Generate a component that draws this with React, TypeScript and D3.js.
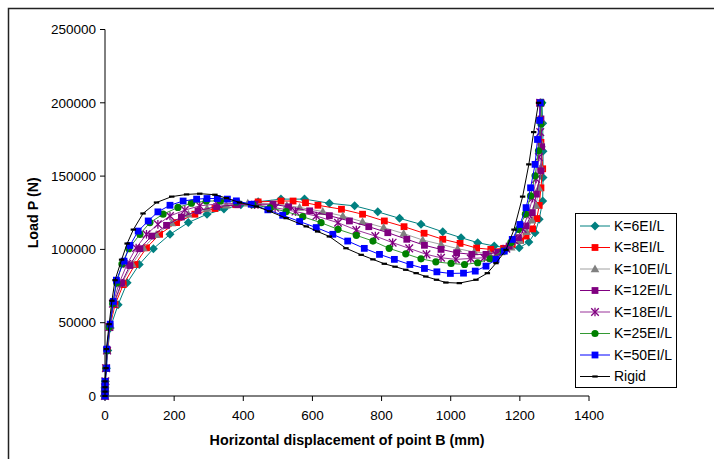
import React from "react";
import * as d3 from "d3";

const xTicks = [0, 200, 400, 600, 800, 1000, 1200, 1400];
const yTicks = [0, 50000, 100000, 150000, 200000, 250000];

const k6: [number, number][] = [[0,0],[0,3000],[0,6000],[1,10000],[4,19000],[8,31000],[15,46400],[38,62300],[64,77200],[99,89700],[140,100500],[188,110300],[241,118300],[295,124000],[344,127500],[393,130500],[443,132500],[509,134300],[577,134300],[649,131500],[722,129700],[789,125600],[852,121200],[914,117100],[977,112000],[1030,108000],[1078,104600],[1126,102300],[1165,101000],[1198,101100],[1226,105000],[1244,111400],[1256,120500],[1266,133000],[1267,149000],[1267,167000],[1266,186000],[1264,200000]];
const k8: [number, number][] = [[0,0],[0,3000],[0,6000],[1,10000],[3,19000],[7,31000],[14,47000],[29,62300],[53,76000],[87,89700],[120,101100],[158,110300],[207,118300],[260,124000],[318,127900],[379,130500],[443,132400],[509,133000],[544,133000],[580,131800],[616,130100],[684,127400],[745,124000],[808,119400],[865,115500],[923,111000],[977,106900],[1027,104100],[1075,100900],[1116,100000],[1153,100700],[1178,103400],[1202,106000],[1218,109100],[1237,114000],[1249,121000],[1256,130000],[1261,142000],[1266,155000],[1261,173000],[1259,188000],[1257,200000]];
const k10: [number, number][] = [[0,0],[0,3000],[0,6000],[1,10000],[3,19000],[6,31000],[13,47000],[27,63000],[49,77000],[79,90000],[111,101000],[148,110000],[193,118000],[241,124000],[295,128000],[351,130200],[413,131500],[482,131000],[526,130000],[563,128600],[630,125800],[688,122800],[745,118900],[806,114900],[864,110800],[919,106400],[972,103400],[1020,100500],[1068,98200],[1111,97300],[1146,98300],[1175,101500],[1200,106000],[1220,112000],[1235,120000],[1247,130000],[1255,142000],[1261,156000],[1263,172000],[1262,188000],[1260,200000]];
const k12: [number, number][] = [[0,0],[0,3000],[0,6000],[1,10000],[3,19000],[6,31000],[12,47000],[25,63000],[48,77200],[72,89000],[101,100500],[135,109100],[178,116400],[221,122100],[269,126300],[323,129200],[384,130500],[433,130800],[486,130800],[531,129000],[592,126300],[649,123000],[707,119400],[763,115500],[818,111400],[873,106900],[924,102800],[972,100000],[1017,97700],[1061,96600],[1102,96600],[1136,98000],[1169,102300],[1196,108000],[1218,116000],[1236,125100],[1248,137700],[1261,153600],[1263,170000],[1261,189000],[1259,200000]];
const k18: [number, number][] = [[0,0],[0,3000],[0,6000],[1,10000],[3,19000],[6,31000],[12,47000],[23,63000],[41,77000],[64,90000],[90,101000],[120,110300],[153,117100],[188,122800],[231,126800],[274,129700],[325,131000],[379,131300],[433,130500],[492,128500],[551,125800],[611,122800],[674,118200],[727,113200],[782,109100],[832,104600],[880,100700],[930,96600],[972,94300],[1015,93200],[1058,93800],[1097,94300],[1131,96500],[1161,100500],[1185,106000],[1208,114000],[1224,124000],[1237,135000],[1247,148000],[1255,163000],[1259,180000],[1259,200000]];
const k25: [number, number][] = [[0,0],[0,3000],[0,6000],[0,10000],[3,19000],[6,31000],[12,47000],[22,63000],[34,77000],[49,90000],[69,100500],[101,110300],[130,118300],[168,124000],[211,128600],[250,131500],[293,133000],[334,133000],[380,132400],[428,130500],[477,128300],[524,125800],[572,122300],[625,118200],[674,113700],[727,109600],[775,105700],[822,100700],[870,97000],[914,93600],[957,91500],[1001,90400],[1040,89700],[1078,90900],[1114,93600],[1152,98800],[1174,104600],[1196,113700],[1216,124000],[1231,136500],[1244,150200],[1254,167300],[1261,185600],[1263,200000]];
const k50: [number, number][] = [[0,0],[0,3000],[0,6000],[0,10000],[5,19000],[5,32000],[15,49000],[24,64500],[33,79000],[55,92000],[72,102700],[96,112500],[125,119400],[153,125600],[188,130100],[226,133000],[265,134300],[295,134700],[325,134700],[354,134300],[380,133100],[423,130800],[471,127000],[514,123300],[563,119000],[611,114900],[659,110300],[702,105700],[750,100700],[794,96600],[837,93200],[882,89700],[924,87000],[960,84700],[999,83600],[1037,83800],[1071,85200],[1102,88600],[1131,93200],[1155,98800],[1178,106800],[1200,117000],[1218,128500],[1231,142000],[1244,158000],[1251,175000],[1257,188000],[1259,200000]];
const rigid: [number, number][] = [[0,0],[0,3000],[0,6000],[0,10000],[3,19000],[4,32000],[12,49000],[20,65000],[29,79000],[48,93000],[64,104000],[82,113500],[110,124500],[149,132000],[193,136000],[236,137500],[274,138000],[318,137300],[351,135000],[389,132000],[438,129300],[476,126000],[524,121300],[582,115700],[615,112200],[649,108800],[697,100800],[741,96300],[775,93200],[808,90200],[839,88200],[870,86100],[900,83800],[928,81500],[959,79300],[986,77400],[1025,77000],[1073,79300],[1106,83800],[1131,90600],[1160,99700],[1183,113500],[1208,136000],[1226,158000],[1240,180000],[1254,200000]];

const seriesNames = ["K=6EI/L", "K=8EI/L", "K=10EI/L", "K=12EI/L", "K=18EI/L", "K=25EI/L", "K=50EI/L", "Rigid"];
const seriesData = [k6, k8, k10, k12, k18, k25, k50, rigid];
const lineColors = ["#008080", "#FF0000", "#A0A0A0", "#800080", "#993399", "#339933", "#0000FF", "#000000"];
const markerColors = ["#008080", "#FF0000", "#808080", "#800080", "#800080", "#008000", "#0000FF", "#000000"];
const markerTypes = ["diamond", "square", "triangle", "square", "star", "circle", "square", "dash"];

const W = 714, H = 459;
const x = d3.scaleLinear().domain([0, 1400]).range([105, 589]);
const y = d3.scaleLinear().domain([0, 250000]).range([396, 29.5]);
const FONT = "Arial, 'Liberation Sans', sans-serif";

function Marker({ type, cx, cy, color }: { type: string; cx: number; cy: number; color: string }) {
  switch (type) {
    case "diamond":
      return <path d={`M${cx},${cy - 4.5}L${cx + 4.5},${cy}L${cx},${cy + 4.5}L${cx - 4.5},${cy}Z`} fill={color} />;
    case "square":
      return <rect x={cx - 3.4} y={cy - 3.4} width={6.8} height={6.8} fill={color} />;
    case "triangle":
      return <path d={`M${cx},${cy - 4.5}L${cx + 4.3},${cy + 3.3}L${cx - 4.3},${cy + 3.3}Z`} fill={color} />;
    case "star":
      return (
        <g stroke={color} strokeWidth={1.3}>
          <line x1={cx - 3.8} y1={cy - 3.8} x2={cx + 3.8} y2={cy + 3.8} />
          <line x1={cx - 3.8} y1={cy + 3.8} x2={cx + 3.8} y2={cy - 3.8} />
          <line x1={cx} y1={cy - 4.3} x2={cx} y2={cy + 4.3} />
        </g>
      );
    case "circle":
      return <circle cx={cx} cy={cy} r={3.6} fill={color} />;
    case "dash":
      return <rect x={cx - 2.7} y={cy - 1.1} width={5.4} height={2.2} fill={color} />;
    default:
      return null;
  }
}

export default function App() {
  const line = d3
    .line<[number, number]>()
    .x((d) => x(d[0]))
    .y((d) => y(d[1]));

  const legendX = 575, legendY = 213, legendW = 101, legendH = 174;
  const rowH = 21.5;

  return (
    <svg
      width={W}
      height={H}
      style={{ position: "absolute", left: 0, top: 0, background: "#fff" }}
      fontFamily={FONT}
    >
      <rect x={0} y={0} width={W} height={H} fill="#fff" />
      <rect x={8.5} y={8.5} width={W + 20} height={H + 20} fill="none" stroke="#222" strokeWidth={1.5} />

      {/* axes */}
      <line x1={x(0)} y1={y(250000)} x2={x(0)} y2={y(0)} stroke="#000" strokeWidth={1} />
      <line x1={x(0)} y1={y(0)} x2={x(1400)} y2={y(0)} stroke="#000" strokeWidth={1} />
      {yTicks.map((t) => (
        <g key={"y" + t}>
          <line x1={x(0) - 5} x2={x(0)} y1={y(t)} y2={y(t)} stroke="#000" />
          <text x={x(0) - 9} y={y(t)} dy="0.35em" textAnchor="end" fontSize={13.5} fill="#000">
            {t}
          </text>
        </g>
      ))}
      {xTicks.map((t) => (
        <g key={"x" + t}>
          <line x1={x(t)} x2={x(t)} y1={y(0)} y2={y(0) + 5} stroke="#000" />
          <text x={x(t)} y={y(0) + 19} dy="0.35em" textAnchor="middle" fontSize={13.5} fill="#000">
            {t}
          </text>
        </g>
      ))}
      <text x={(x(0) + x(1400)) / 2} y={445} textAnchor="middle" fontSize={14.3} fontWeight="bold" fill="#000">
        Horizontal displacement of point B (mm)
      </text>
      <text
        transform={`translate(38,${(y(0) + y(250000)) / 2}) rotate(-90)`}
        textAnchor="middle"
        fontSize={14.3}
        fontWeight="bold"
        fill="#000"
      >
        Load P (N)
      </text>

      {/* series */}
      {seriesData.map((data, i) => (
        <g key={seriesNames[i]}>
          <path d={line(data) || ""} fill="none" stroke={lineColors[i]} strokeWidth={1} />
          {data.map((d, j) => (
            <Marker key={j} type={markerTypes[i]} cx={x(d[0])} cy={y(d[1])} color={markerColors[i]} />
          ))}
        </g>
      ))}

      {/* legend */}
      <rect x={legendX + 0.5} y={legendY + 0.5} width={legendW} height={legendH} fill="#fff" stroke="#000" strokeWidth={1} />
      {seriesNames.map((name, i) => {
        const cy = legendY + 13 + i * rowH;
        return (
          <g key={"lg" + name}>
            <line x1={580} x2={610} y1={cy} y2={cy} stroke={lineColors[i]} strokeWidth={1} />
            <Marker type={markerTypes[i]} cx={595} cy={cy} color={markerColors[i]} />
            <text x={614} y={cy} dy="0.35em" fontSize={14} fill="#000">
              {name}
            </text>
          </g>
        );
      })}
    </svg>
  );
}
